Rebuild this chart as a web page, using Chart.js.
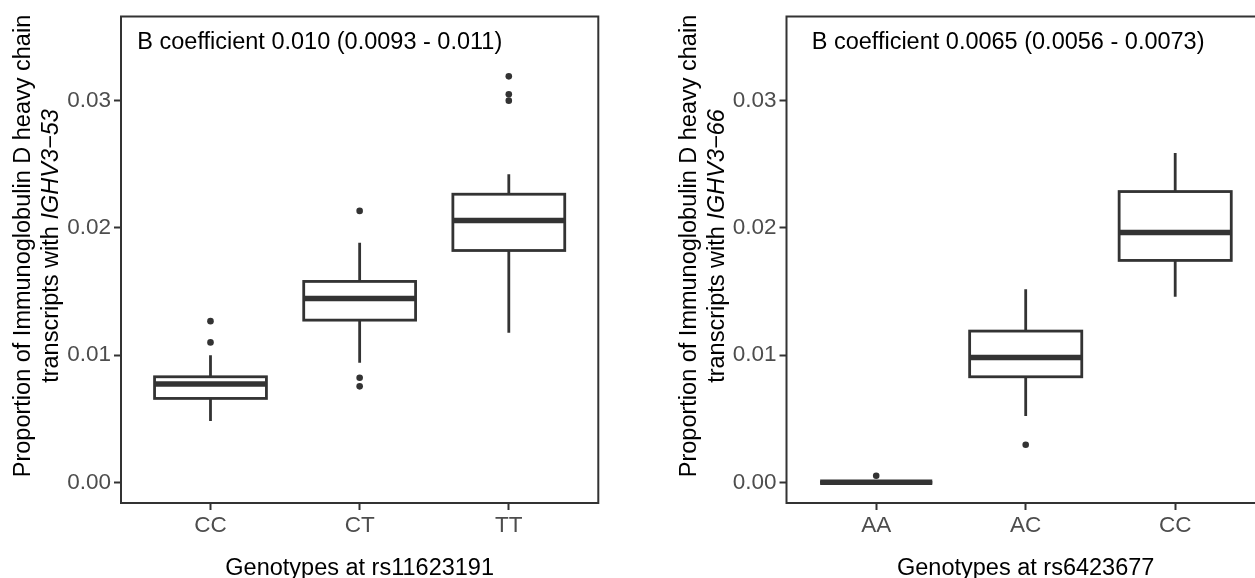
<!DOCTYPE html>
<html>
<head>
<meta charset="utf-8">
<script src="https://cdn.jsdelivr.net/npm/chart.js@4.4.1/dist/chart.umd.min.js"></script>
<style>
  html, body { margin: 0; padding: 0; background: #fff; overflow: hidden; width: 1255px; height: 578px; }
  body { position: relative; }
  canvas { position: absolute; top: 0; }
  #left { left: 0; }
  #right { left: 640px; }
</style>
</head>
<body>
<canvas id="left" width="620" height="578"></canvas>
<canvas id="right" width="640" height="578"></canvas>
<script>
// values
var yTickValues = [0, 0.01, 0.02, 0.03];

var leftCategories = ["CC", "CT", "TT"];
var leftLowerWhisker = [0.00481, 0.00939, 0.01174];
var leftQ1 = [0.00659, 0.01274, 0.01821];
var leftMedian = [0.00772, 0.01444, 0.02057];
var leftQ3 = [0.00829, 0.01578, 0.02263];
var leftUpperWhisker = [0.00999, 0.01881, 0.02420];
var leftOutliers = [[0.01266, 0.01099], [0.02132, 0.00821, 0.00754], [0.03189, 0.03048, 0.02998]];

var rightCategories = ["AA", "AC", "CC"];
var rightLowerWhisker = [0.0, 0.00520, 0.01457];
var rightQ1 = [0.0, 0.00829, 0.01743];
var rightMedian = [0.0, 0.00981, 0.01962];
var rightQ3 = [0.0, 0.01188, 0.02284];
var rightUpperWhisker = [0.0, 0.01517, 0.02587];
var rightOutliers = [[0.00052], [0.00295], []];

var yMin = -0.001624;
var yMax = 0.03659;

var FONT = "'Liberation Sans', Arial, sans-serif";
var DARK = "#333333";


// box + whiskers, drawn through the chart scales
function boxPlugin(stats) {
    return {
        id: 'boxes',
        beforeDatasetsDraw: function (chart) {
            var x = chart.scales.x, y = chart.scales.y, ctx = chart.ctx;
            var half = x.getPixelForValue(0.375) - x.getPixelForValue(0);
            ctx.save();
            ctx.strokeStyle = DARK;
            for (var i = 0; i < stats.median.length; i++) {
                var cx = x.getPixelForValue(i);
                var top = y.getPixelForValue(stats.q3[i]);
                var bot = y.getPixelForValue(stats.q1[i]);
                var med = y.getPixelForValue(stats.median[i]);
                ctx.lineWidth = 2.8;
                ctx.beginPath();
                ctx.moveTo(cx, y.getPixelForValue(stats.upper[i]));
                ctx.lineTo(cx, top);
                ctx.moveTo(cx, bot);
                ctx.lineTo(cx, y.getPixelForValue(stats.lower[i]));
                ctx.stroke();
                ctx.fillStyle = "#ffffff";
                ctx.fillRect(cx - half, top, 2 * half, bot - top);
                ctx.strokeRect(cx - half, top, 2 * half, bot - top);
                ctx.lineWidth = 5.5;
                ctx.beginPath();
                ctx.moveTo(cx - half, med);
                ctx.lineTo(cx + half, med);
                ctx.stroke();
            }
            ctx.restore();
        }
    };
}

// frame, annotation and axis titles
function textPlugin(t) {
    return {
        id: 'texts',
        afterDraw: function (chart) {
            var a = chart.chartArea, ctx = chart.ctx;
            ctx.save();
            ctx.strokeStyle = DARK;
            ctx.lineWidth = 2;
            ctx.strokeRect(a.left, a.top, a.right - a.left, a.bottom - a.top);

            ctx.fillStyle = "#000000";
            ctx.font = "23.5px " + FONT;
            ctx.textBaseline = "alphabetic";
            ctx.textAlign = "left";
            ctx.fillText(t.coef, a.left + t.coefDx, 49.3);

            ctx.textAlign = "center";
            ctx.fillText(t.xTitle, (a.left + a.right) / 2, 575);

            // y title, two lines, rotated
            ctx.translate(0, t.yCenter);
            ctx.rotate(-Math.PI / 2);
            ctx.textAlign = "left";
            ctx.font = "23.5px " + FONT;
            var w1 = ctx.measureText(t.yLine1).width;
            ctx.fillText(t.yLine1, -w1 / 2, t.yBase1);
            var w2a = ctx.measureText(t.yLine2).width;
            ctx.font = "italic 23.5px " + FONT;
            var w2b = ctx.measureText(t.yGene).width;
            var start = -(w2a + w2b) / 2;
            ctx.font = "23.5px " + FONT;
            ctx.fillText(t.yLine2, start, t.yBase2);
            ctx.font = "italic 23.5px " + FONT;
            ctx.fillText(t.yGene, start + w2a, t.yBase2);
            ctx.restore();
        }
    };
}

function makeChart(id, cats, stats, outliers, texts, yAxisWidth, pad) {
    var points = [];
    outliers.forEach(function (vals, i) {
        vals.forEach(function (v) { points.push({ x: i, y: v }); });
    });
    var tickFont = { family: FONT, size: 22.5 };
    return new Chart(document.getElementById(id), {
        type: "scatter",
        data: {
            datasets: [{
                data: points,
                pointRadius: 3.3,
                pointHoverRadius: 3.3,
                pointBackgroundColor: DARK,
                pointBorderWidth: 0
            }]
        },
        options: {
            responsive: false,
            animation: false,
            layout: { padding: pad },
            plugins: { legend: { display: false }, tooltip: { enabled: false } },
            scales: {
                x: {
                    type: "linear",
                    min: -0.6,
                    max: 2.6,
                    afterBuildTicks: function (s) {
                        s.ticks = cats.map(function (c, i) { return { value: i }; });
                    },
                    afterFit: function (s) { s.height = 75; },
                    ticks: {
                        callback: function (v) { return cats[v]; },
                        color: "#4d4d4d",
                        font: tickFont,
                        padding: 2,
                        maxRotation: 0,
                        autoSkip: false
                    },
                    grid: { drawOnChartArea: false, tickLength: 7, tickWidth: 2, tickColor: DARK },
                    border: { display: false }
                },
                y: {
                    min: yMin,
                    max: yMax,
                    afterBuildTicks: function (s) {
                        s.ticks = yTickValues.map(function (v) { return { value: v }; });
                    },
                    afterFit: function (s) { s.width = yAxisWidth; },
                    ticks: {
                        callback: function (v) { return v.toFixed(2); },
                        color: "#4d4d4d",
                        font: tickFont,
                        padding: 3
                    },
                    grid: { drawOnChartArea: false, tickLength: 7, tickWidth: 2, tickColor: DARK },
                    border: { display: false }
                }
            }
        },
        plugins: [boxPlugin(stats), textPlugin(texts)]
    });
}

makeChart("left", leftCategories,
    { lower: leftLowerWhisker, q1: leftQ1, median: leftMedian, q3: leftQ3, upper: leftUpperWhisker },
    leftOutliers,
    {
        coef: "B coefficient 0.010 (0.0093 - 0.011)", coefDx: 16.3,
        xTitle: "Genotypes at rs11623191",
        yLine1: "Proportion of Immunoglobulin D heavy chain",
        yLine2: "transcripts with ", yGene: "IGHV3\u221253",
        yCenter: 246, yBase1: 30, yBase2: 58
    },
    121, { top: 16, right: 21.7, bottom: 0, left: 0 });

makeChart("right", rightCategories,
    { lower: rightLowerWhisker, q1: rightQ1, median: rightMedian, q3: rightQ3, upper: rightUpperWhisker },
    rightOutliers,
    {
        coef: "B coefficient 0.0065 (0.0056 - 0.0073)", coefDx: 25.2,
        xTitle: "Genotypes at rs6423677",
        yLine1: "Proportion of Immunoglobulin D heavy chain",
        yLine2: "transcripts with ", yGene: "IGHV3\u221266",
        yCenter: 246, yBase1: 56, yBase2: 84
    },
    146.5, { top: 16, right: 15.1, bottom: 0, left: 0 });
</script>
</body>
</html>
